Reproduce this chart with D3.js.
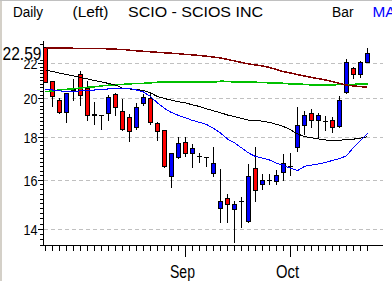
<!DOCTYPE html>
<html>
<head>
<meta charset="utf-8">
<script src="https://cdn.jsdelivr.net/npm/d3@7"></script>
<style>
  body { margin: 0; background: #fff; }
  svg { display: block; }
  text { font-family: "Liberation Sans", Arial, sans-serif; }
</style>
</head>
<body>
<div class="chart-container"></div>
<script>
// handelsdage aug - okt 2001 (ingen handel 11.-14. sep)
const dates = [
  "2001-08-06","2001-08-07","2001-08-08","2001-08-09","2001-08-10",
  "2001-08-13","2001-08-14","2001-08-15","2001-08-16","2001-08-17",
  "2001-08-20","2001-08-21","2001-08-22","2001-08-23","2001-08-24",
  "2001-08-27","2001-08-28","2001-08-29","2001-08-30","2001-08-31",
  "2001-09-04","2001-09-05","2001-09-06","2001-09-07","2001-09-10",
  "2001-09-17","2001-09-18","2001-09-19","2001-09-20","2001-09-21",
  "2001-09-24","2001-09-25","2001-09-26","2001-09-27","2001-09-28",
  "2001-10-01","2001-10-02","2001-10-03","2001-10-04","2001-10-05",
  "2001-10-08","2001-10-09","2001-10-10","2001-10-11","2001-10-12",
  "2001-10-15","2001-10-16"
];

// kurser
const openP  = [22.98,20.91,19.85,19.24,20.42,21.35,20.55,19.12,19.10,19.19,
                20.18,19.31,18.98,18.45,19.69,19.99,18.64,18.29,16.14,17.02,
                17.71,17.20,17.05,16.99,16.29,14.79,15.21,14.76,15.07,14.27,
                16.51,15.81,15.98,15.92,16.33,16.60,17.49,18.55,19.16,18.81,
                18.76,18.84,18.50,20.33,21.70,21.35,22.04];
const highP  = [22.99,20.98,19.99,20.30,21.08,21.54,20.98,19.79,19.10,20.18,
                20.27,19.98,19.16,19.75,20.23,20.30,18.72,18.34,17.23,17.97,
                17.97,17.65,17.23,17.03,17.52,16.48,15.39,15.11,15.25,16.71,
                17.49,16.26,16.26,16.45,17.19,17.22,19.52,19.33,19.40,19.22,
                19.05,19.01,20.12,22.26,21.80,22.16,22.92];
const lowP   = [20.82,19.54,19.14,18.70,19.85,19.58,18.79,18.59,18.34,18.81,
                19.05,18.29,17.74,18.34,19.58,18.59,17.81,16.51,15.63,16.92,
                17.02,16.51,16.77,16.55,16.14,14.23,14.23,13.45,14.02,14.23,
                15.07,15.56,15.78,15.78,15.96,16.15,17.28,18.09,18.42,17.88,
                18.30,18.20,18.42,20.23,21.06,21.15,22.00];
const closeP = [20.87,20.08,19.24,20.23,20.47,20.14,19.05,19.08,19.10,20.05,
                19.51,18.34,18.25,19.51,20.05,18.70,18.25,16.59,17.17,17.65,
                17.20,17.41,17.05,16.99,16.71,15.10,14.97,14.97,15.07,16.16,
                15.53,15.95,15.98,16.21,16.71,16.60,18.54,19.10,18.81,19.10,
                18.76,18.47,19.85,22.04,21.35,22.04,22.59];

// glidende gennemsnit
const maDarkRed = [22.94,22.94,22.94,22.94,22.92,22.92,22.92,22.92,22.91,22.88,
                   22.86,22.85,22.80,22.76,22.73,22.70,22.67,22.64,22.61,22.58,
                   22.54,22.51,22.47,22.43,22.38,22.32,22.23,22.14,22.05,21.96,
                   21.90,21.84,21.75,21.63,21.50,21.42,21.33,21.25,21.17,21.09,
                   21.02,20.92,20.82,20.73,20.68,20.64,20.60];
const maBlack   = [21.60,21.51,21.42,21.34,21.25,21.16,21.08,20.99,20.91,20.82,
                   20.73,20.56,20.51,20.48,20.42,20.29,20.09,19.98,19.89,19.80,
                   19.74,19.64,19.55,19.43,19.32,19.22,19.10,19.01,18.92,18.84,
                   18.82,18.78,18.72,18.62,18.51,18.34,18.14,18.01,17.95,17.89,
                   17.84,17.81,17.82,17.87,17.88,17.93,18.00];
const maBlue    = [20.49,20.45,20.40,20.37,20.37,20.40,20.42,20.45,20.48,20.51,
                   20.54,20.55,20.54,20.45,20.34,20.09,19.74,19.45,19.23,19.08,
                   18.95,18.82,18.72,18.61,18.42,18.18,17.89,17.70,17.46,17.22,
                   17.05,16.98,16.89,16.75,16.64,16.51,16.41,16.60,16.66,16.71,
                   16.78,16.87,16.96,17.08,17.48,17.82,18.17];
const maGreen   = [20.36,20.40,20.45,20.49,20.52,20.56,20.60,20.63,20.68,20.72,
                   20.75,20.77,20.79,20.82,20.83,20.85,20.89,20.89,20.89,20.89,
                   20.89,20.89,20.89,20.89,20.89,20.95,20.94,20.89,20.89,20.89,
                   20.89,20.88,20.85,20.85,20.83,20.79,20.79,20.77,20.73,20.73,
                   20.73,20.73,20.76,20.77,20.77,20.79,20.79];

const yTicks = [14, 16, 18, 20, 22];
const lastPrice = 22.59;
const monthNames = {"09": "Sep", "10": "Oct"};
const header = [
  {text: "Daily", x: 13, len: 30, color: "#000"},
  {text: "(Left)", x: 72.5, len: 36, color: "#000"},
  {text: "SCIO - SCIOS INC", x: 128, len: 135, color: "#000"},
  {text: "Bar", x: 332, len: 21.5, color: "#000"},
  {text: "MA", x: 372.5, len: 23, color: "#0000ff"}
];

// størrelser
const width = 392, height = 281;
const plot = {left: 44, right: 383, top: 41, bottom: 245};

const svg = d3.select(".chart-container")
    .append("svg")
    .attr("width", width)
    .attr("height", height);

// vinduesramme
svg.append("rect").attr("x", 0).attr("y", 0).attr("width", 2).attr("height", height).attr("fill", "#d4d0c8");
svg.append("rect").attr("x", 0).attr("y", 0).attr("width", width).attr("height", 1).attr("fill", "#c0c0c0");

// skalaer
const x = d3.scalePoint().domain(dates).range([45.5, 367.5]);
const y = d3.scaleLog().domain([13.39, 23.38]).range([plot.bottom, plot.top]);

// overskrift
svg.selectAll("text.header")
    .data(header)
    .join("text")
    .attr("class", "header")
    .attr("x", d => d.x)
    .attr("y", 17)
    .attr("font-size", "15.5px")
    .attr("textLength", d => d.len)
    .attr("lengthAdjust", "spacingAndGlyphs")
    .attr("fill", d => d.color)
    .text(d => d.text);

// gitterlinjer
svg.append("g")
    .selectAll("line")
    .data(yTicks)
    .join("line")
    .attr("x1", plot.left)
    .attr("x2", plot.right)
    .attr("y1", d => Math.round(y(d)) + 0.5)
    .attr("y2", d => Math.round(y(d)) + 0.5)
    .attr("stroke", "#c0c0c0")
    .attr("stroke-dasharray", "4,3");

// clip til plotområdet
svg.append("clipPath").attr("id", "plotclip")
    .append("rect")
    .attr("x", plot.left).attr("y", plot.top)
    .attr("width", plot.right - plot.left).attr("height", plot.bottom - plot.top);

const plotG = svg.append("g").attr("clip-path", "url(#plotclip)");

const candles = dates.map((d, i) => ({
  date: d, open: openP[i], high: highP[i], low: lowP[i], close: closeP[i]
}));

// lys (candlesticks)
const candleG = plotG.selectAll("g.candle")
    .data(candles)
    .join("g")
    .attr("class", "candle")
    .attr("shape-rendering", "crispEdges");

candleG.append("line")
    .attr("x1", d => x(d.date)).attr("x2", d => x(d.date))
    .attr("y1", d => y(d.high)).attr("y2", d => y(d.low))
    .attr("stroke", "#000");

candleG.filter(d => d.open !== d.close)
    .append("rect")
    .attr("x", d => x(d.date) - 2)
    .attr("width", 4)
    .attr("y", d => y(Math.max(d.open, d.close)))
    .attr("height", d => Math.max(1, Math.abs(y(d.open) - y(d.close))))
    .attr("fill", d => d.close > d.open ? "#0000ff" : "#ff0000")
    .attr("stroke", "#000");

candleG.filter(d => d.open === d.close)
    .append("line")
    .attr("x1", d => x(d.date) - 2.5).attr("x2", d => x(d.date) + 2.5)
    .attr("y1", d => y(d.close)).attr("y2", d => y(d.close))
    .attr("stroke", "#000");

// MA linjer
const lines = [
  {values: maGreen, color: "#00c000", w: 1.5},
  {values: maDarkRed, color: "#800000", w: 1.5},
  {values: maBlack, color: "#000000", w: 1},
  {values: maBlue, color: "#0000ff", w: 1}
];
const lineGen = d3.line()
    .x((d, i) => x(dates[i]))
    .y(d => y(d));

plotG.selectAll("path.ma")
    .data(lines)
    .join("path")
    .attr("class", "ma")
    .attr("d", d => lineGen(d.values))
    .attr("fill", "none")
    .attr("stroke", d => d.color)
    .attr("stroke-width", d => d.w)
    .attr("shape-rendering", "crispEdges");

// y-akse: små streger hver 0.2
const minorTicks = d3.range(134, 234, 2).map(v => v / 10);
svg.append("g")
    .attr("transform", "translate(" + (plot.left - 1) + ",0)")
    .call(d3.axisLeft(y).tickValues(minorTicks).tickSize(3).tickSizeOuter(0).tickFormat(""))
    .attr("shape-rendering", "crispEdges")
    .select(".domain").remove();

const yAxis = svg.append("g")
    .attr("transform", "translate(" + (plot.left - 1) + ",0)")
    .call(d3.axisLeft(y).tickValues(yTicks).tickSize(5).tickSizeOuter(0).tickPadding(0.5).tickFormat(d3.format("d")))
    .attr("shape-rendering", "crispEdges");
yAxis.select(".domain").remove();
yAxis.selectAll("text")
    .attr("font-family", "Liberation Sans, Arial, sans-serif")
    .attr("font-size", "15px")
    .attr("fill", "#000")
    .attr("dy", "0.37em")
    .attr("textLength", 14)
    .attr("lengthAdjust", "spacingAndGlyphs");

// y-aksens linje
svg.append("line")
    .attr("x1", plot.left - 0.5).attr("x2", plot.left - 0.5)
    .attr("y1", plot.top).attr("y2", plot.bottom + 1)
    .attr("stroke", "#000");

// seneste kurs
const lastY = y(lastPrice);
svg.append("rect")
    .attr("x", 2).attr("y", lastY - 7.5)
    .attr("width", plot.left - 3).attr("height", 14)
    .attr("fill", "#fff");
svg.append("text")
    .attr("x", 2.5)
    .attr("y", lastY + 6.5)
    .attr("font-size", "19px")
    .attr("textLength", 39)
    .attr("lengthAdjust", "spacingAndGlyphs")
    .text(d3.format(".2f")(lastPrice));

// x-akse
const xAxis = svg.append("g")
    .attr("transform", "translate(0," + (plot.bottom + 0.5) + ")")
    .call(d3.axisBottom(x).tickSize(5).tickSizeOuter(0).tickFormat("").offset(0))
    .attr("shape-rendering", "crispEdges");
xAxis.select(".domain").remove();

svg.append("line")
    .attr("x1", plot.left - 1).attr("x2", plot.right)
    .attr("y1", plot.bottom + 0.5).attr("y2", plot.bottom + 0.5)
    .attr("stroke", "#000")
    .attr("shape-rendering", "crispEdges");

// månedsstart: lange streger og navne
const monthStarts = dates.filter((d, i) => i > 0 && d.slice(5, 7) !== dates[i - 1].slice(5, 7));

svg.selectAll("line.month")
    .data(monthStarts)
    .join("line")
    .attr("class", "month")
    .attr("x1", d => x(d)).attr("x2", d => x(d))
    .attr("y1", plot.bottom).attr("y2", plot.bottom + 12)
    .attr("stroke", "#000")
    .attr("shape-rendering", "crispEdges");

svg.selectAll("text.month")
    .data(monthStarts)
    .join("text")
    .attr("class", "month")
    .attr("x", d => x(d) - 3)
    .attr("y", 278)
    .attr("text-anchor", "middle")
    .attr("font-size", "18px")
    .attr("textLength", d => monthNames[d.slice(5, 7)] === "Sep" ? 25 : 23)
    .attr("lengthAdjust", "spacingAndGlyphs")
    .text(d => monthNames[d.slice(5, 7)]);
</script>
</body>
</html>
